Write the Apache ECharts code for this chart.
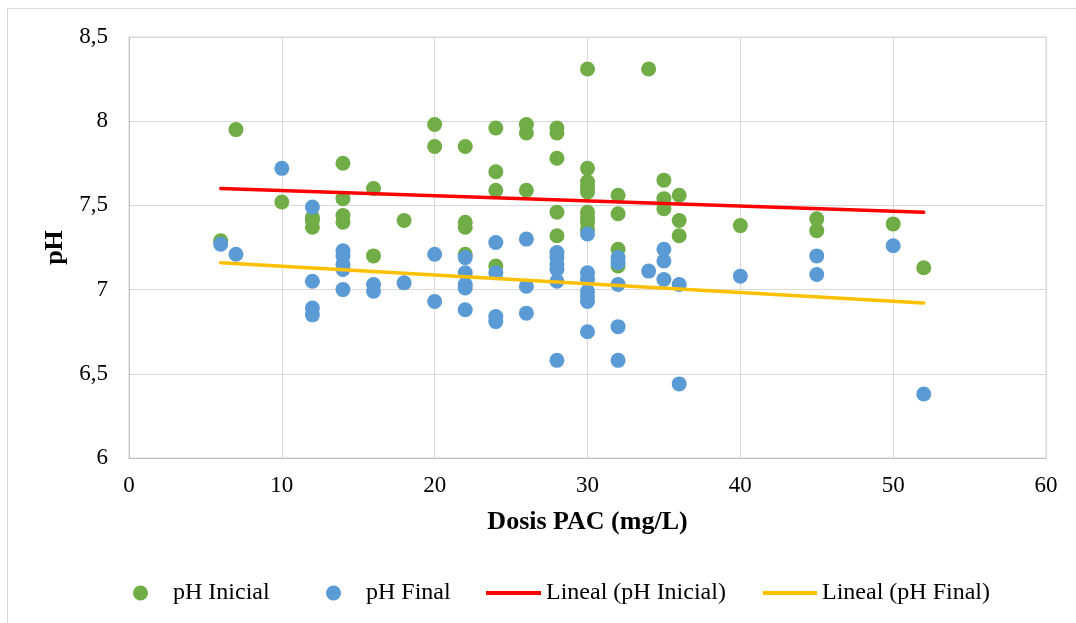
<!DOCTYPE html>
<html>
<head>
<meta charset="utf-8">
<script src="https://cdn.jsdelivr.net/npm/echarts@6/dist/echarts.min.js"></script>
<style>
  html, body { margin: 0; padding: 0; background: #fff; }
  #chart { width: 1076px; height: 623px; }
</style>
</head>
<body>
<div id="chart"></div>
<script>
// dose (mg/L), pH pairs
const phInicial = [
  [6, 7.29], [7, 7.95], [10, 7.52],
  [12, 7.43], [12, 7.41], [12, 7.37],
  [14, 7.75], [14, 7.54], [14, 7.44], [14, 7.40],
  [16, 7.60], [16, 7.20], [18, 7.41],
  [20, 7.98], [20, 7.85],
  [22, 7.85], [22, 7.40], [22, 7.37], [22, 7.21],
  [24, 7.96], [24, 7.70], [24, 7.59], [24, 7.14],
  [26, 7.98], [26, 7.93], [26, 7.59],
  [28, 7.96], [28, 7.93], [28, 7.78], [28, 7.46], [28, 7.32],
  [30, 8.31], [30, 7.72], [30, 7.64], [30, 7.61], [30, 7.58], [30, 7.46], [30, 7.43], [30, 7.40], [30, 7.36],
  [32, 7.56], [32, 7.45], [32, 7.24], [32, 7.14],
  [34, 8.31],
  [35, 7.65], [35, 7.54], [35, 7.48],
  [36, 7.56], [36, 7.41], [36, 7.32],
  [40, 7.38], [45, 7.42], [45, 7.35], [50, 7.39], [52, 7.13]
];
const phFinal = [
  [6, 7.27], [7, 7.21], [10, 7.72],
  [12, 7.49], [12, 7.05], [12, 6.89], [12, 6.85],
  [14, 7.23], [14, 7.20], [14, 7.15], [14, 7.12], [14, 7.00],
  [16, 7.03], [16, 6.99], [18, 7.04],
  [20, 7.21], [20, 6.93],
  [22, 7.19], [22, 7.10], [22, 7.03], [22, 7.01], [22, 6.88],
  [24, 7.28], [24, 7.10], [24, 6.84], [24, 6.81],
  [26, 7.30], [26, 7.02], [26, 6.86],
  [28, 7.22], [28, 7.19], [28, 7.15], [28, 7.12], [28, 7.05], [28, 6.58],
  [30, 7.33], [30, 7.10], [30, 7.06], [30, 6.99], [30, 6.96], [30, 6.93], [30, 6.75],
  [32, 7.19], [32, 7.16], [32, 7.03], [32, 6.78], [32, 6.58],
  [34, 7.11],
  [35, 7.24], [35, 7.17], [35, 7.06],
  [36, 7.03], [36, 6.44],
  [40, 7.08], [45, 7.20], [45, 7.09], [50, 7.26], [52, 6.38]
];
// trendline end points as drawn
const linealInicial = [[6, 7.60], [52, 7.46]];
const linealFinal = [[6, 7.16], [52, 6.92]];

const seriesNames = ["pH Inicial", "pH Final", "Lineal (pH Inicial)", "Lineal (pH Final)"];

const font = "'Liberation Serif', 'Times New Roman', serif";

function showChart() {
  const chartDom = document.getElementById("chart");
  const myChart = echarts.init(chartDom);
  const legendText = { fontFamily: font, fontSize: 24, color: "#000" };
  const option = {
    animation: false,
    backgroundColor: "#fff",
    graphic: [
      {
        type: "rect",
        shape: { x: 7.5, y: 8.5, width: 1100, height: 700 },
        style: { fill: "none", stroke: "#d9d9d9", lineWidth: 1 },
      },
    ],
    grid: {
      left: 129,
      right: 30,
      top: 37,
      bottom: 165,
      show: true,
      borderColor: "#d9d9d9",
      borderWidth: 1,
    },
    legend: [
      { data: [seriesNames[0]], left: 128, top: 576, icon: "circle", itemWidth: 55, itemHeight: 15, textStyle: legendText },
      { data: [seriesNames[1]], left: 321, top: 576, icon: "circle", itemWidth: 55, itemHeight: 15, textStyle: legendText },
      { data: [seriesNames[2]], left: 481, top: 576, icon: "rect", itemWidth: 55, itemHeight: 4, textStyle: legendText },
      { data: [seriesNames[3]], left: 758, top: 576, icon: "rect", itemWidth: 54, itemHeight: 4, textStyle: legendText },
    ],
    xAxis: {
      type: "value",
      min: 0,
      max: 60,
      interval: 10,
      name: "Dosis PAC (mg/L)",
      nameLocation: "middle",
      nameGap: 51,
      nameTextStyle: { fontFamily: font, fontSize: 26, fontWeight: "bold", color: "#000" },
      axisLine: { lineStyle: { color: "#bfbfbf", width: 1 } },
      axisTick: { show: false },
      axisLabel: { fontFamily: font, fontSize: 23, color: "#000", margin: 16 },
      splitLine: { lineStyle: { color: "#d9d9d9", width: 1 } },
    },
    yAxis: {
      type: "value",
      min: 6,
      max: 8.5,
      interval: 0.5,
      name: "pH",
      nameLocation: "middle",
      nameGap: 48,
      nameTextStyle: { fontFamily: font, fontSize: 26, fontWeight: "bold", color: "#000" },
      axisLine: { show: true, lineStyle: { color: "#bfbfbf", width: 1 } },
      axisTick: { show: false },
      axisLabel: {
        fontFamily: font,
        fontSize: 23,
        color: "#000",
        margin: 21,
        formatter: (v) => String(v).replace(".", ","),
      },
      splitLine: { lineStyle: { color: "#d9d9d9", width: 1 } },
    },
    series: [
      {
        name: seriesNames[0],
        type: "scatter",
        data: phInicial,
        symbolSize: 15,
        itemStyle: { color: "#70ad47", opacity: 1 },
      },
      {
        name: seriesNames[1],
        type: "scatter",
        data: phFinal,
        symbolSize: 15,
        itemStyle: { color: "#5b9bd5", opacity: 1 },
      },
      {
        name: seriesNames[2],
        type: "line",
        data: linealInicial,
        symbol: "none",
        lineStyle: { color: "#ff0000", width: 3.5, cap: "round" },
        itemStyle: { color: "#ff0000" },
      },
      {
        name: seriesNames[3],
        type: "line",
        data: linealFinal,
        symbol: "none",
        lineStyle: { color: "#ffc000", width: 3.5, cap: "round" },
        itemStyle: { color: "#ffc000" },
      },
    ],
  };
  myChart.setOption(option);
  window.addEventListener("resize", () => {
    myChart.resize();
  });
}

showChart();
</script>
</body>
</html>
